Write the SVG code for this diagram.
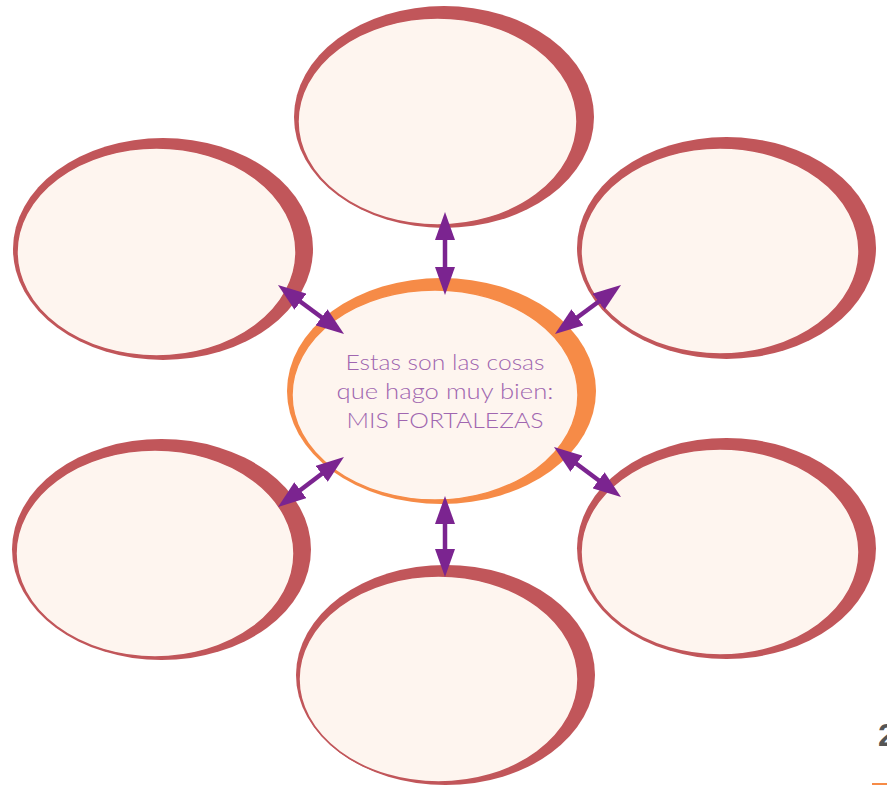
<svg xmlns="http://www.w3.org/2000/svg" width="887" height="785" viewBox="0 0 887 785">
  <style>
    .rim { fill: #C1565A; }
    .face { fill: #FEF5EF; stroke: #C1565A; stroke-width: 1.5; }
    .crim { fill: #F68B47; }
    .cface { fill: #FEF5EF; stroke: #F68B47; stroke-width: 1.5; }
    .arrow { stroke: #7B2490; stroke-width: 4.5; fill: none; marker-start: url(#head); marker-end: url(#head); }
    .label { font-family: Lato, "Open Sans", "Liberation Sans", sans-serif; font-size: 22px; font-weight: 300; fill: #A066B0; text-anchor: middle; }
  </style>
  <defs>
    <marker id="head" viewBox="0 0 28 20" refX="18" refY="10" markerWidth="28" markerHeight="20" markerUnits="userSpaceOnUse" orient="auto-start-reverse">
      <path d="M0,0 L28,10 L0,20 Z" fill="#7B2490"/>
    </marker>
  </defs>
  <rect width="887" height="785" fill="#FFFFFF"/>

  <g id="node-top">
    <ellipse class="rim" cx="444" cy="117" rx="150" ry="111"/>
    <ellipse class="face" cx="437.5" cy="121.5" rx="139.5" ry="103.5"/>
  </g>
  <g id="node-top-left">
    <ellipse class="rim" cx="163" cy="249" rx="150" ry="111"/>
    <ellipse class="face" cx="156.5" cy="252" rx="139.5" ry="104"/>
  </g>
  <g id="node-top-right">
    <ellipse class="rim" cx="726.5" cy="248" rx="149.5" ry="111"/>
    <ellipse class="face" cx="720" cy="251" rx="139" ry="103"/>
  </g>
  <g id="node-bottom-left">
    <ellipse class="rim" cx="161.5" cy="549.5" rx="149.5" ry="110.5"/>
    <ellipse class="face" cx="155" cy="553.5" rx="139" ry="103.5"/>
  </g>
  <g id="node-bottom-right">
    <ellipse class="rim" cx="726.5" cy="548.5" rx="149.5" ry="110.5"/>
    <ellipse class="face" cx="720" cy="552" rx="139" ry="103"/>
  </g>
  <g id="node-bottom">
    <ellipse class="rim" cx="445.5" cy="675" rx="149.5" ry="110"/>
    <ellipse class="face" cx="438.5" cy="679" rx="139.5" ry="103"/>
  </g>
  <g id="node-center">
    <ellipse class="crim" cx="441.5" cy="391" rx="154.5" ry="113"/>
    <ellipse class="cface" cx="435" cy="395" rx="143" ry="105"/>
    <text class="label" x="445" y="370" textLength="199" lengthAdjust="spacingAndGlyphs">Estas son las cosas</text>
    <text class="label" x="445" y="399" textLength="217" lengthAdjust="spacingAndGlyphs">que hago muy bien:</text>
    <text class="label" x="445" y="428" textLength="197" lengthAdjust="spacingAndGlyphs">MIS FORTALEZAS</text>
  </g>

  <g id="connectors">
    <line class="arrow" x1="445" y1="222" x2="445" y2="285"/>
    <line class="arrow" x1="445" y1="506" x2="445" y2="567"/>
    <line class="arrow" x1="286" y1="291" x2="336" y2="328"/>
    <line class="arrow" x1="613" y1="291" x2="563" y2="328"/>
    <line class="arrow" x1="336" y1="463" x2="286" y2="501"/>
    <line class="arrow" x1="562" y1="453" x2="613" y2="491"/>
  </g>

  <text x="878" y="746" font-family="'Liberation Sans', Arial, sans-serif" font-size="32" font-weight="bold" fill="#555555">2</text>
  <rect x="872" y="783" width="15" height="2" fill="#F68B47"/>
</svg>
